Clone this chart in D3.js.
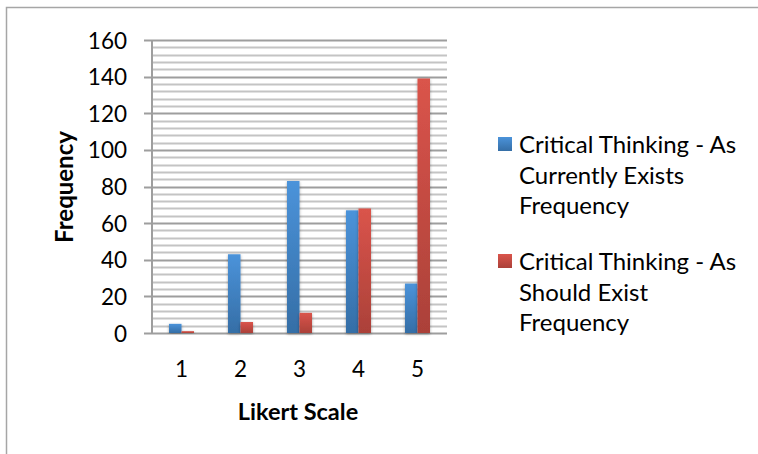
<!DOCTYPE html>
<html>
<head>
<meta charset="utf-8">
<script src="https://cdn.jsdelivr.net/npm/d3@7"></script>
<style>
  html, body { margin: 0; padding: 0; background: #fff; }
  svg { display: block; }
  text { font-family: Lato, "Open Sans", sans-serif; fill: #000; }
</style>
</head>
<body>
<svg id="chart" width="758" height="454"></svg>
<script>
const categories = ["1", "2", "3", "4", "5"];
const seriesNames = ["Critical Thinking - As Currently Exists Frequency",
                     "Critical Thinking - As Should Exist Frequency"];
const legendLines = [["Critical Thinking - As", "Currently Exists", "Frequency"],
                     ["Critical Thinking - As", "Should Exist", "Frequency"]];
const currentlyExists = [5, 43, 83, 67, 27];
const shouldExist = [1, 6, 11, 68, 139];
const yTicks = [0, 20, 40, 60, 80, 100, 120, 140, 160];
const xTitle = "Likert Scale";
const yTitle = "Frequency";

const series = [currentlyExists, shouldExist];
const svg = d3.select("#chart");

// frame
svg.append("path")
  .attr("d", "M6.5,454 L6.5,7.5 L758,7.5")
  .attr("fill", "none").attr("stroke", "#a6a6a6").attr("stroke-width", 1.5);

const plot = { left: 152, right: 447, top: 40, bottom: 333 };

const x = d3.scaleBand().domain(categories).range([plot.left, plot.right]).padding(0);
const groupFrac = 25 / 59;
const xs = d3.scaleBand().domain(d3.range(series.length))
  .range([0, x.bandwidth() * groupFrac]).padding(0);
const y = d3.scaleLinear().domain([0, 160]).range([plot.bottom, plot.top]);

const defs = svg.append("defs");
const grads = [["#4b93da", "#356ea6"], ["#da544b", "#ab4139"]];
grads.forEach((g, i) => {
  const lg = defs.append("linearGradient").attr("id", "g" + i)
    .attr("x1", 0).attr("y1", 0).attr("x2", 0).attr("y2", 1);
  lg.append("stop").attr("offset", "0%").attr("stop-color", g[0]);
  lg.append("stop").attr("offset", "100%").attr("stop-color", g[1]);
});
const f = defs.append("filter").attr("id", "sh")
  .attr("x", "-50%").attr("y", "-10%").attr("width", "200%").attr("height", "120%");
f.append("feDropShadow").attr("dx", 0).attr("dy", 1).attr("stdDeviation", 1.8)
  .attr("flood-color", "#000").attr("flood-opacity", 0.35);

// minor gridlines
const minor = d3.range(0, 161, 4).filter(v => v % 20 !== 0);
svg.append("g").selectAll("line").data(minor).join("line")
  .attr("x1", plot.left).attr("x2", plot.right)
  .attr("y1", d => Math.round(y(d)) + 0.5).attr("y2", d => Math.round(y(d)) + 0.5)
  .attr("stroke", "#c4c4c4").attr("stroke-width", 2);

// major gridlines
svg.append("g").selectAll("line").data(yTicks).join("line")
  .attr("x1", plot.left - 8).attr("x2", plot.right)
  .attr("y1", d => Math.round(y(d)) + 0.5).attr("y2", d => Math.round(y(d)) + 0.5)
  .attr("stroke", "#9e9e9e").attr("stroke-width", 2);

// y axis line
svg.append("line")
  .attr("x1", plot.left).attr("x2", plot.left)
  .attr("y1", plot.top).attr("y2", plot.bottom + 1)
  .attr("stroke", "#9e9e9e").attr("stroke-width", 2);

// y tick labels via axis
const yAxis = d3.axisLeft(y).tickValues(yTicks).tickSize(0).tickPadding(0);
const ya = svg.append("g").attr("transform", `translate(${plot.left - 25},0)`).call(yAxis);
ya.select(".domain").remove();
ya.selectAll("text").attr("font-size", 22.5).attr("font-family", "Lato, sans-serif")
  .attr("fill", "#000").attr("dy", "0.36em");

// bars
series.forEach((vals, si) => {
  svg.append("g").selectAll("rect").data(vals).join("rect")
    .attr("x", (d, i) => x(categories[i]) + x.bandwidth() * (1 - groupFrac) / 2 + xs(si))
    .attr("width", xs.bandwidth())
    .attr("y", d => y(d))
    .attr("height", d => y(0) - y(d))
    .attr("fill", `url(#g${si})`)
    .attr("filter", "url(#sh)");
});

// x axis labels
const xAxis = d3.axisBottom(x).tickSize(0).tickPadding(0);
const xa = svg.append("g").attr("transform", `translate(0,${plot.bottom + 28})`).call(xAxis);
xa.select(".domain").remove();
xa.selectAll("text").attr("font-size", 22.5).attr("font-family", "Lato, sans-serif")
  .attr("fill", "#000").attr("dy", "0.71em");

// titles
svg.append("text").attr("x", 298).attr("y", 420).attr("text-anchor", "middle")
  .attr("font-size", 23.5).attr("font-weight", "bold").text(xTitle);
svg.append("text").attr("transform", "translate(73,187) rotate(-90)")
  .attr("text-anchor", "middle").attr("font-size", 24).attr("font-weight", "bold").text(yTitle);

// legend
const legTop = [153, 270];
legendLines.forEach((lines, si) => {
  const g = svg.append("g");
  g.append("rect").attr("x", 498).attr("y", legTop[si] - 16).attr("width", 14).attr("height", 14)
    .attr("fill", `url(#g${si})`);
  lines.forEach((ln, li) => {
    g.append("text").attr("x", 519).attr("y", legTop[si] + li * 30.5)
      .attr("font-size", 24).text(ln);
  });
});
</script>
</body>
</html>
